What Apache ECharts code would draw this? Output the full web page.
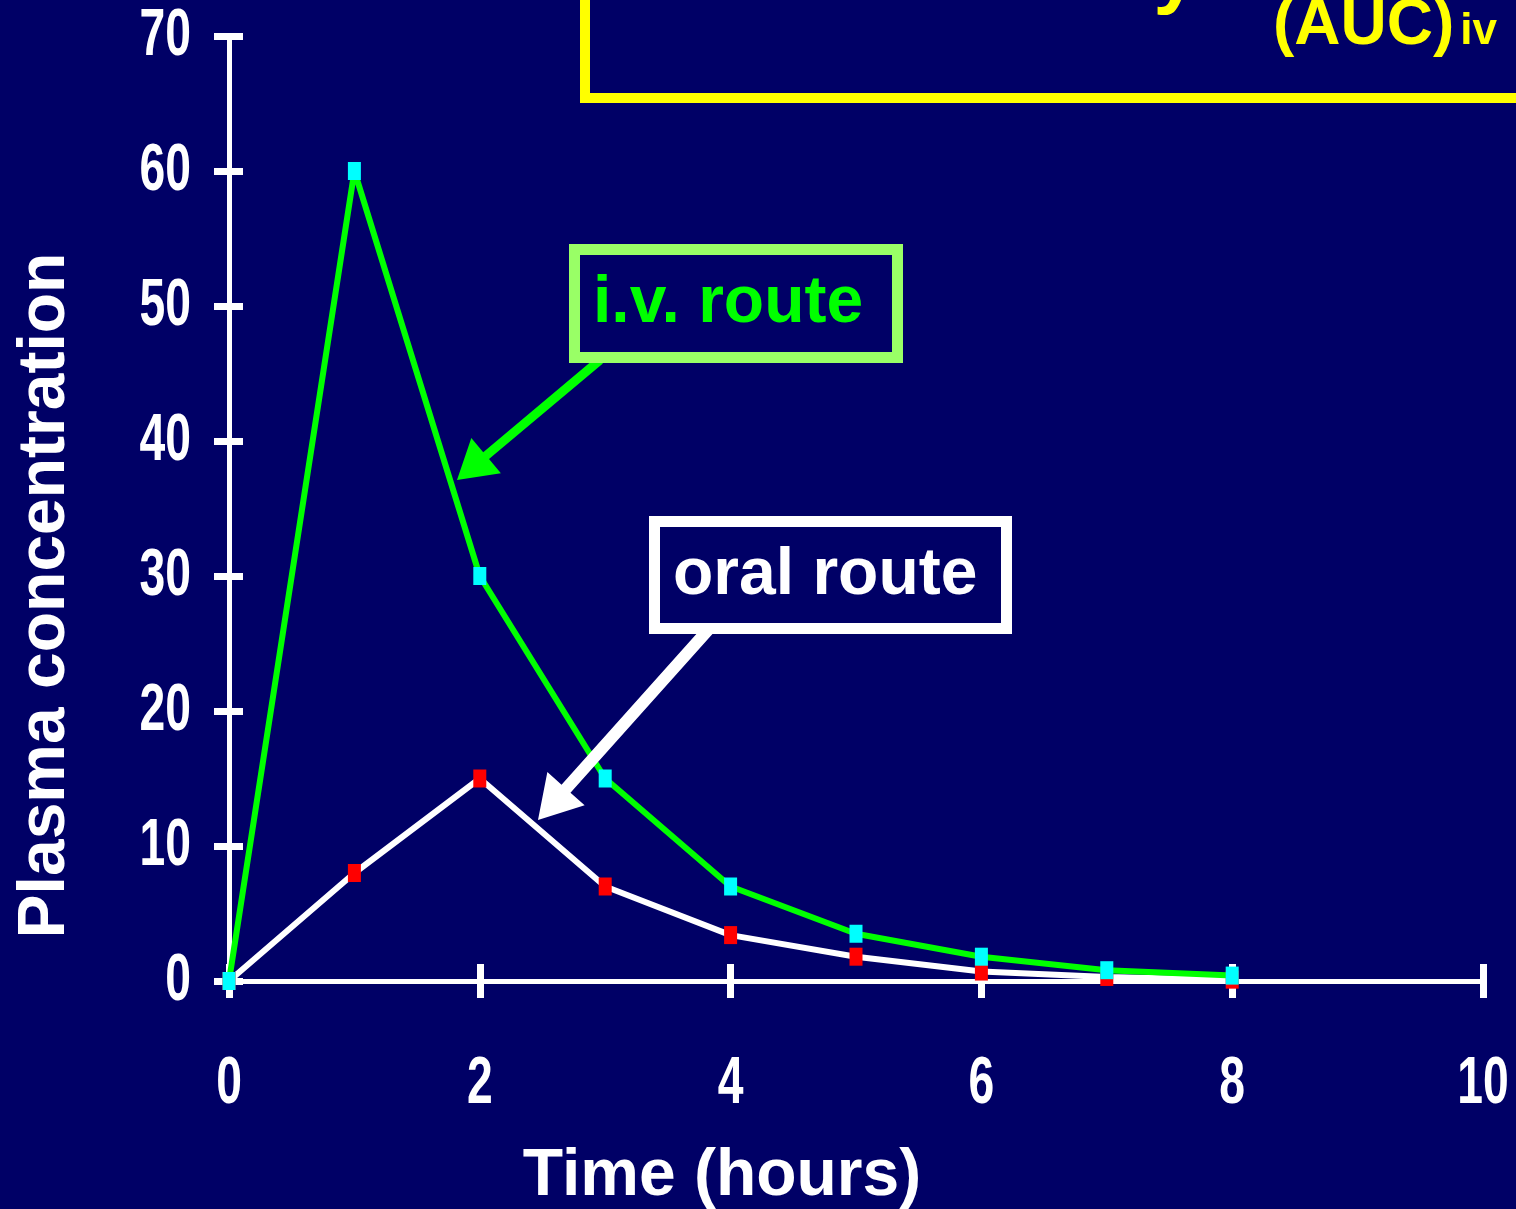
<!DOCTYPE html>
<html>
<head>
<meta charset="utf-8">
<script src="https://cdn.jsdelivr.net/npm/echarts@6/dist/echarts.min.js"></script>
<style>
  html, body { margin: 0; padding: 0; background: #000066; }
  #chart { width: 1516px; height: 1209px; }
</style>
</head>
<body>
<div id="chart"></div>
<script>
// Sampling times (hours) and plasma concentrations for each route
const hours = [0, 1, 2, 3, 4, 5, 6, 7, 8];
const ivConc = [0, 60, 30, 15, 7, 3.5, 1.8, 0.8, 0.4];
const oralConc = [0, 8, 15, 7, 3.4, 1.8, 0.7, 0.3, 0.1];

// Axis ranges and tick labels
const xRange = [0, 10];
const xStep = 2;
const xTickLabels = [0, 2, 4, 6, 8, 10];
const yRange = [0, 70];
const yStep = 10;
const yTickLabels = [0, 10, 20, 30, 40, 50, 60, 70];

const BG = '#000066';
const SANS = "'Liberation Sans', Arial, Helvetica, sans-serif";
// condensed bold numerals for the tick labels
const TICK_FONT = "bold 67px 'Liberation Sans', Arial, sans-serif";
const TICK_SQUEEZE = 0.69;

const pairs = (xs, ys) => xs.map((x, i) => [x, ys[i]]);

// Polygon for a thick arrow from (x1,y1) to the tip (x2,y2)
function arrowPoints(x1, y1, x2, y2, shaft, headLen, headHalf) {
  const dx = x2 - x1, dy = y2 - y1;
  const len = Math.hypot(dx, dy);
  const ux = dx / len, uy = dy / len;
  const px = -uy, py = ux;
  const bx = x2 - ux * headLen, by = y2 - uy * headLen;
  const s = shaft / 2;
  return [
    [x1 + px * s, y1 + py * s],
    [bx + px * s, by + py * s],
    [bx + px * headHalf, by + py * headHalf],
    [x2, y2],
    [bx - px * headHalf, by - py * headHalf],
    [bx - px * s, by - py * s],
    [x1 - px * s, y1 - py * s]
  ];
}

const gridBox = { left: 229, right: 33, top: 36, bottom: 228, outerBoundsMode: 'none', containLabel: false };

// Fixed annotations: formula box, callouts with arrows
const annotations = [
  {
    type: 'text', z: 20,
    x: 1198, y: 16,
    style: {
      text: 'Bioavailability',
      align: 'right', verticalAlign: 'bottom',
      font: "bold 80px 'Liberation Sans', Arial, sans-serif",
      fill: '#ffff00'
    }
  },
  {
    type: 'text', z: 20,
    x: 1273, y: -6,
    style: {
      text: '{m|(AUC)}{s|iv}',
      rich: {
        m: { fontFamily: SANS, fontWeight: 'bold', fontSize: 64, fill: '#ffff00', verticalAlign: 'bottom' },
        s: { fontFamily: SANS, fontWeight: 'bold', fontSize: 44, fill: '#ffff00', verticalAlign: 'bottom', padding: [0, 0, 4, 6] }
      }
    }
  },
  {
    type: 'rect', z: 19,
    shape: { x: 585, y: -30, width: 1000, height: 128 },
    style: { fill: 'none', stroke: '#ffff00', lineWidth: 10 }
  },
  // i.v. route callout
  {
    type: 'polygon', z: 20,
    shape: { points: arrowPoints(600, 360, 457, 480, 9, 38, 23) },
    style: { fill: '#00ff00' }
  },
  {
    type: 'rect', z: 21,
    shape: { x: 574.5, y: 249.5, width: 323, height: 108 },
    style: { fill: BG, stroke: '#99ff66', lineWidth: 11 }
  },
  {
    type: 'text', z: 22,
    x: 593, y: 271,
    style: {
      text: 'i.v. route', fill: '#00ff00',
      font: "bold 66px 'Liberation Sans', Arial, sans-serif"
    }
  },
  // oral route callout
  {
    type: 'polygon', z: 20,
    shape: { points: arrowPoints(708, 630, 538, 820, 12, 42, 25) },
    style: { fill: '#ffffff' }
  },
  {
    type: 'rect', z: 21,
    shape: { x: 654.5, y: 521.5, width: 352, height: 107 },
    style: { fill: BG, stroke: '#ffffff', lineWidth: 11 }
  },
  {
    type: 'text', z: 22,
    x: 673, y: 543,
    style: {
      text: 'oral route', fill: '#ffffff',
      font: "bold 66px 'Liberation Sans', Arial, sans-serif"
    }
  }
];

const chart = echarts.init(document.getElementById('chart'), null, { renderer: 'canvas' });

chart.setOption({
  backgroundColor: BG,
  animation: false,
  grid: [
    Object.assign({}, gridBox),
    Object.assign({}, gridBox)
  ],
  xAxis: [
    {
      type: 'value', gridIndex: 0,
      min: xRange[0], max: xRange[1], interval: xStep,
      axisLine: { show: true, lineStyle: { color: '#ffffff', width: 5 } },
      axisTick: { show: true, inside: false, length: 17, lineStyle: { color: '#ffffff', width: 7 } },
      axisLabel: { show: false },
      splitLine: { show: false },
      name: 'Time (hours)',
      nameLocation: 'middle',
      nameGap: 163,
      nameTextStyle: {
        color: '#ffffff', fontFamily: SANS, fontWeight: 'bold', fontSize: 66,
        padding: [0, 268, 0, 0]
      }
    },
    {
      // inner half of the crossing tick marks
      type: 'value', gridIndex: 1,
      min: xRange[0], max: xRange[1], interval: xStep,
      axisLine: { show: false },
      axisTick: { show: true, inside: true, length: 17, lineStyle: { color: '#ffffff', width: 7 } },
      axisLabel: { show: false },
      splitLine: { show: false }
    }
  ],
  yAxis: [
    {
      type: 'value', gridIndex: 0,
      min: yRange[0], max: yRange[1], interval: yStep,
      axisLine: { show: true, lineStyle: { color: '#ffffff', width: 5 } },
      axisTick: { show: true, inside: false, length: 15, lineStyle: { color: '#ffffff', width: 7 } },
      axisLabel: { show: false },
      splitLine: { show: false },
      name: 'Plasma concentration',
      nameLocation: 'middle',
      nameRotate: 90,
      nameGap: 150,
      nameTextStyle: {
        color: '#ffffff', fontFamily: SANS, fontWeight: 'bold', fontSize: 66,
        padding: [0, 174, 0, 0]
      }
    },
    {
      type: 'value', gridIndex: 1,
      min: yRange[0], max: yRange[1], interval: yStep,
      axisLine: { show: false },
      axisTick: { show: true, inside: true, length: 14, lineStyle: { color: '#ffffff', width: 7 } },
      axisLabel: { show: false },
      splitLine: { show: false }
    }
  ],
  series: [
    {
      name: 'oral route',
      type: 'line',
      xAxisIndex: 0, yAxisIndex: 0,
      data: pairs(hours, oralConc),
      lineStyle: { color: '#ffffff', width: 6 },
      symbol: 'rect',
      symbolSize: [13, 18],
      itemStyle: { color: '#ff0000' },
      z: 3
    },
    {
      name: 'i.v. route',
      type: 'line',
      xAxisIndex: 0, yAxisIndex: 0,
      data: pairs(hours, ivConc),
      lineStyle: { color: '#00ff00', width: 6 },
      symbol: 'rect',
      symbolSize: [13, 18],
      itemStyle: { color: '#00ffff' },
      z: 4
    }
  ],
  graphic: annotations
});

// Condensed tick numerals, placed with the axes' own scales
const x0 = chart.convertToPixel({ xAxisIndex: 0 }, xRange[0]);
const y0 = chart.convertToPixel({ yAxisIndex: 0 }, yRange[0]);
const tickLabels = [];
yTickLabels.forEach(v => {
  tickLabels.push({
    type: 'text', z: 10,
    x: x0 - 38, y: chart.convertToPixel({ yAxisIndex: 0 }, v) + 1,
    scaleX: TICK_SQUEEZE,
    style: { text: String(v), font: TICK_FONT, fill: '#ffffff', align: 'right', verticalAlign: 'middle' }
  });
});
xTickLabels.forEach(v => {
  tickLabels.push({
    type: 'text', z: 10,
    x: chart.convertToPixel({ xAxisIndex: 0 }, v), y: y0 + 104,
    scaleX: TICK_SQUEEZE,
    style: { text: String(v), font: TICK_FONT, fill: '#ffffff', align: 'center', verticalAlign: 'middle' }
  });
});

chart.setOption({ graphic: annotations.concat(tickLabels) });
</script>
</body>
</html>
